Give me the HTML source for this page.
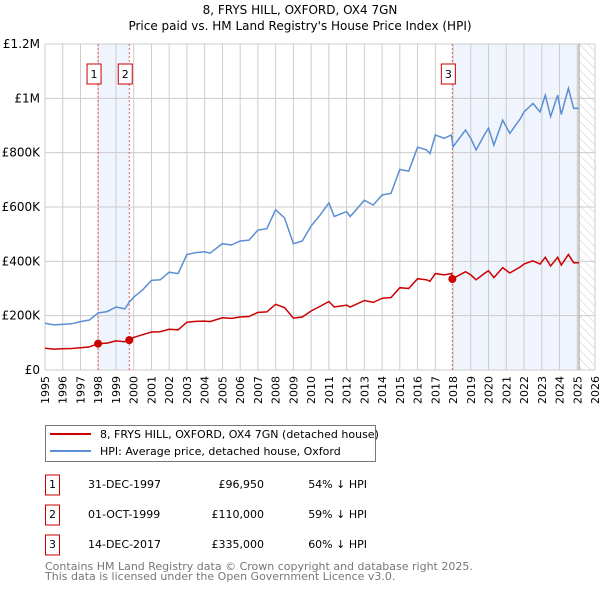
<!DOCTYPE html>
<html><head><meta charset="utf-8"><style>
body{margin:0;background:#fff;font-family:"DejaVu Sans","Liberation Sans",sans-serif;}
svg text{font-family:"DejaVu Sans","Liberation Sans",sans-serif;}
</style></head><body>
<svg id="chart" width="600" height="590" viewBox="0 0 600 590" xmlns="http://www.w3.org/2000/svg">
<defs><pattern id="hatch" width="6" height="6" patternUnits="userSpaceOnUse" patternTransform="rotate(-45)"><line x1="0" y1="0" x2="0" y2="6" stroke="#ccc" stroke-width="1"/></pattern></defs>
<text x="300" y="14" text-anchor="middle" font-size="12">8, FRYS HILL, OXFORD, OX4 7GN</text>
<text x="300" y="30" text-anchor="middle" font-size="12">Price paid vs. HM Land Registry's House Price Index (HPI)</text>
<g id="plot"></g>
<rect x="45.5" y="425.5" width="330" height="36" fill="#fff" stroke="#777"/>
<line x1="50" y1="434" x2="91" y2="434" stroke="#cc0000" stroke-width="2"/>
<text x="100" y="438" font-size="11">8, FRYS HILL, OXFORD, OX4 7GN (detached house)</text>
<line x1="50" y1="451" x2="91" y2="451" stroke="#5b8fd4" stroke-width="2"/>
<text x="100" y="455" font-size="11">HPI: Average price, detached house, Oxford</text>
<g id="table" font-size="11"></g>
<text x="45" y="570" font-size="11" fill="#777">Contains HM Land Registry data © Crown copyright and database right 2025.</text>
<text x="45" y="580" font-size="11" fill="#777">This data is licensed under the Open Government Licence v3.0.</text>
</svg>
<script>
const hpiDates=[1995,1995.5,1996,1996.5,1997,1997.5,1998,1998.5,1999,1999.5,1999.75,2000,2000.5,2001,2001.5,2002,2002.5,2003,2003.5,2004,2004.3,2005,2005.5,2006,2006.5,2007,2007.5,2008,2008.5,2009,2009.5,2010,2010.5,2011,2011.3,2012,2012.2,2013,2013.5,2014,2014.5,2015,2015.5,2016,2016.5,2016.7,2017,2017.5,2017.9,2018,2018.7,2019,2019.3,2019.8,2020,2020.3,2020.8,2021.2,2021.8,2022,2022.5,2022.9,2023.2,2023.5,2023.9,2024.1,2024.5,2024.8,2025.1];
const hpiValues=[172,166,168,170,178,184,210,215,232,225,250,268,295,330,332,360,355,425,432,435,430,465,460,475,478,515,520,590,560,465,475,530,570,615,565,583,565,625,607,644,650,738,732,820,810,797,865,853,865,822,883,853,810,870,890,828,920,871,926,950,981,950,1012,933,1012,940,1037,963,963];
const redDates=hpiDates;
const redValues=[80,77,78,79,82,85,97,99,107,104,112,120,130,140,141,150,148,176,179,180,178,192,190,195,197,212,214,242,230,191,195,217,234,252,232,239,232,256,249,264,267,303,300,336,332,327,355,350,355,337,362,350,332,357,365,340,377,357,380,390,402,390,415,383,415,386,425,395,395];
const saleDates=[1997.99,1999.75,2017.96];
const saleValues=[96.95,110,335];
const yTicks=[0,200,400,600,800,1000,1200];
const yTickLabels=["£0","£200K","£400K","£600K","£800K","£1M","£1.2M"];
const xYears=[1995,1996,1997,1998,1999,2000,2001,2002,2003,2004,2005,2006,2007,2008,2009,2010,2011,2012,2013,2014,2015,2016,2017,2018,2019,2020,2021,2022,2023,2024,2025,2026];
const tableDates=["31-DEC-1997","01-OCT-1999","14-DEC-2017"];
const tablePrices=["£96,950","£110,000","£335,000"];
const tableHpi=["54% ↓ HPI","59% ↓ HPI","60% ↓ HPI"];
const X0=45,X1=595,Y0=370,Y1=44;
const xs=d=>X0+(d-1995)/(2026-1995)*(X1-X0);
const ys=v=>Y0-v/1200*(Y0-Y1);
const NS="http://www.w3.org/2000/svg";
const plot=document.getElementById('plot');
function mk(tag,attrs,parent){const e=document.createElementNS(NS,tag);for(const k in attrs)e.setAttribute(k,attrs[k]);(parent||plot).appendChild(e);return e;}
let e;
e=mk('rect',{x:X0,y:Y1,width:X1-X0,height:Y0-Y1,fill:'#fff'});


e=mk('rect',{x:xs(saleDates[0]),y:Y1,width:xs(saleDates[1])-xs(saleDates[0]),height:Y0-Y1,fill:'#f0f4fc'});


e=mk('rect',{x:xs(saleDates[2]),y:Y1,width:xs(2025.1)-xs(saleDates[2]),height:Y0-Y1,fill:'#f0f4fc'});


e=mk('rect',{x:xs(2025.1),y:Y1,width:X1-xs(2025.1),height:Y0-Y1,fill:'url(#hatch)'});


xYears.forEach((yr)=>{
 e=mk('line',{x1:xs(yr),x2:xs(yr),y1:Y1,y2:Y0,stroke:'#ccc','stroke-width':1});
 
 
 e=mk('text',{x:0,y:0,'font-size':11,'text-anchor':'end',transform:`translate(${xs(yr)+4},${Y0+6}) rotate(-90)`});
 e.textContent=yr;
 
 
});
yTicks.forEach((v,i)=>{
 e=mk('line',{x1:X0,x2:X1,y1:ys(v),y2:ys(v),stroke:'#ccc','stroke-width':1});
 
 
 e=mk('text',{x:X0-5,y:ys(v)+4,'font-size':12,'text-anchor':'end'});
 e.textContent=yTickLabels[i];
 
 
});
e=mk('line',{x1:xs(2025.1),x2:xs(2025.1),y1:Y1,y2:Y0,stroke:'#999','stroke-width':1});


saleDates.forEach((d,i)=>{
 e=mk('line',{x1:xs(d),x2:xs(d),y1:Y1,y2:Y0,stroke:'#e06060','stroke-width':1,'stroke-dasharray':'2,2'});
 
 
 e=mk('rect',{x:xs(d)-11,y:64,width:14,height:20,fill:'#fff',stroke:'#cc0000'});
 
 
 e=mk('text',{x:xs(d)-4,y:78,'font-size':11,'text-anchor':'middle'});
 e.textContent=String(i+1);
 
 
});
function pathOf(ds,vs){return ds.map((d,i)=>(i?'L':'M')+xs(d).toFixed(1)+','+ys(vs[i]).toFixed(1)).join('');}
e=mk('path',{d:pathOf(hpiDates,hpiValues),fill:'none',stroke:'#5b8fd4','stroke-width':1.5});


e=mk('path',{d:pathOf(redDates,redValues),fill:'none',stroke:'#cc0000','stroke-width':1.5});


saleDates.forEach((d,i)=>{
 e=mk('circle',{cx:xs(d),cy:ys(saleValues[i]),r:4,fill:'#cc0000'});
 
 
});
const tbl=document.getElementById('table');
tableDates.forEach((d,i)=>{
 const y=483+i*30;
 e=mk('rect',{x:45.5,y:y-8,width:14,height:20,fill:'#fff',stroke:'#cc0000'},tbl);
 
 
 e=mk('text',{x:52.5,y:y+5,'text-anchor':'middle'},tbl);e.textContent=String(i+1);
 
 
 e=mk('text',{x:88,y:y+5},tbl);e.textContent=d;
 
 
 e=mk('text',{x:264,y:y+5,'text-anchor':'end'},tbl);e.textContent=tablePrices[i];
 
 
 e=mk('text',{x:367,y:y+5,'text-anchor':'end'},tbl);e.textContent=tableHpi[i];
 
 
});
</script>
</body></html>
